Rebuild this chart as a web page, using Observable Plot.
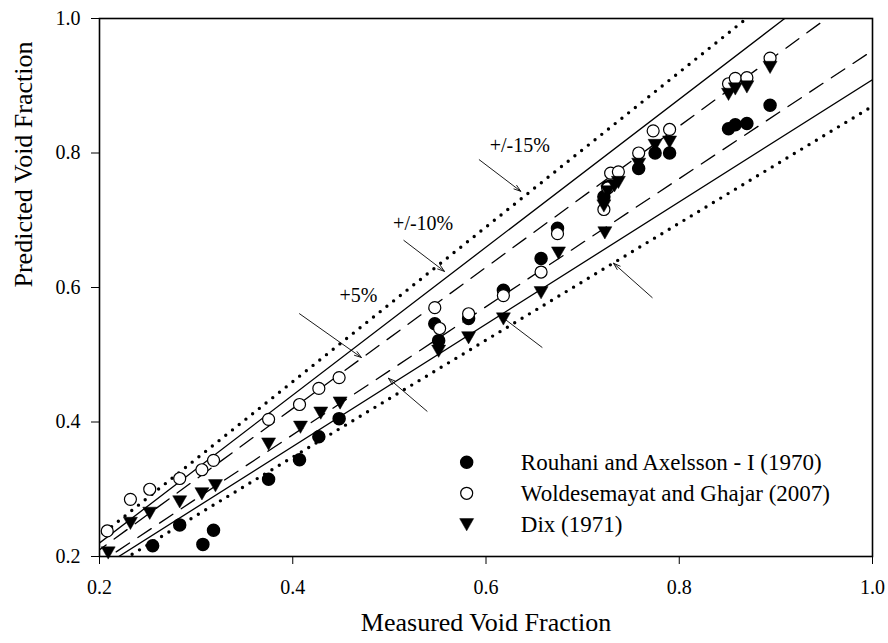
<!DOCTYPE html>
<html>
<head>
<meta charset="utf-8">
<script src="https://cdn.jsdelivr.net/npm/d3@7"></script>
<script src="https://cdn.jsdelivr.net/npm/@observablehq/plot@0.6"></script>
<style>
  html, body { margin: 0; padding: 0; background: #fff; }
  #chart svg { display: block; font-family: "Liberation Serif", "Times New Roman", serif !important; }
  #chart svg text, #chart svg g { font-family: "Liberation Serif", "Times New Roman", serif !important; }
</style>
</head>
<body>
<div id="chart"></div>
<script>
// ---- data ----
const rouhaniX = [0.255,0.283,0.307,0.318,0.375,0.407,0.427,0.448,0.547,0.551,0.582,0.618,0.657,0.674,0.722,0.726,0.758,0.775,0.790,0.851,0.858,0.870,0.894];
const rouhaniY = [0.216,0.247,0.218,0.239,0.315,0.344,0.378,0.405,0.546,0.521,0.554,0.596,0.643,0.688,0.735,0.750,0.777,0.800,0.800,0.836,0.842,0.844,0.871];

const woldX = [0.208,0.232,0.252,0.283,0.306,0.318,0.375,0.407,0.427,0.448,0.547,0.552,0.582,0.618,0.657,0.674,0.722,0.726,0.729,0.737,0.758,0.773,0.790,0.851,0.858,0.870,0.894];
const woldY = [0.238,0.285,0.300,0.316,0.329,0.343,0.404,0.426,0.450,0.466,0.570,0.539,0.561,0.588,0.623,0.680,0.716,0.748,0.770,0.772,0.800,0.833,0.835,0.903,0.911,0.912,0.941];

const dixX = [0.209,0.232,0.252,0.283,0.306,0.320,0.375,0.408,0.429,0.449,0.551,0.582,0.618,0.657,0.675,0.723,0.722,0.726,0.733,0.737,0.758,0.775,0.790,0.851,0.858,0.870,0.894];
const dixY = [0.206,0.250,0.265,0.282,0.294,0.306,0.368,0.393,0.414,0.429,0.506,0.526,0.554,0.593,0.652,0.682,0.722,0.743,0.752,0.757,0.784,0.812,0.817,0.888,0.896,0.899,0.928];

const seriesNames = ["Rouhani and Axelsson - I (1970)", "Woldesemayat and Ghajar (2007)", "Dix (1971)"];

// error band factors (predicted = factor * measured)
const bandFactors = [1.15, 1.10, 1.05, 1/1.05, 1/1.10, 1/1.15];
const bandStyles  = ["dot", "solid", "dash", "dash", "solid", "dot"];
const bandXEnds = [0.15, 1.05];

const axisTicks = [0.2, 0.4, 0.6, 0.8, 1.0];

// annotation labels and arrows (data coordinates)
const annoLabels = ["+/-15%", "+/-10%", "+5%"];
const annoLabelX = [0.635, 0.535, 0.468];
const annoLabelY = [0.811, 0.695, 0.588];
const arrowX1 = [0.593, 0.515, 0.407, 0.539, 0.658, 0.772];
const arrowY1 = [0.790, 0.670, 0.561, 0.416, 0.511, 0.585];
const arrowX2 = [0.636, 0.557, 0.471, 0.499, 0.613, 0.732];
const arrowY2 = [0.743, 0.624, 0.496, 0.465, 0.560, 0.636];

// legend placement (data coordinates)
const legendSymX = 0.580;
const legendTextX = 0.636;
const legendY = [0.340, 0.294, 0.248];

// ---- build tables ----
const zip = (xs, ys) => xs.map((x, i) => ({x, y: ys[i]}));
const rouhani = zip(rouhaniX, rouhaniY);
const wold = zip(woldX, woldY);
const dix = zip(dixX, dixY);

const bandLines = bandFactors.flatMap((f, i) => bandXEnds.map(x => ({x, y: x * f, band: i, style: bandStyles[i]})));
const byStyle = s => bandLines.filter(d => d.style === s);

const annos = annoLabels.map((t, i) => ({t, x: annoLabelX[i], y: annoLabelY[i]}));
const arrows = arrowX1.map((x1, i) => ({x1, y1: arrowY1[i], x2: arrowX2[i], y2: arrowY2[i]}));

const legendRows = seriesNames.map((name, i) => ({name, x: legendSymX, tx: legendTextX, y: legendY[i]}));

const triangleDown = {
  draw(context, size) {
    const r = Math.sqrt(size / Math.PI);
    context.moveTo(-r, -0.8 * r);
    context.lineTo(r, -0.8 * r);
    context.lineTo(0, 0.95 * r);
    context.closePath();
  }
};

const serif = "'Liberation Serif', 'Times New Roman', serif";

const chart = Plot.plot({
  width: 888,
  height: 643,
  marginLeft: 99,
  marginRight: 16,
  marginTop: 18,
  marginBottom: 87,
  style: {fontFamily: serif, color: "black", background: "white"},
  x: {domain: [0.2, 1.0]},
  y: {domain: [0.2, 1.0]},
  marks: [
    Plot.line(byStyle("dot"), {x: "x", y: "y", z: "band", stroke: "black", strokeWidth: 3.4, strokeDasharray: "0,8.6", strokeLinecap: "round", clip: true}),
    Plot.line(byStyle("solid"), {x: "x", y: "y", z: "band", stroke: "black", strokeWidth: 1.3, clip: true}),
    Plot.line(byStyle("dash"), {x: "x", y: "y", z: "band", stroke: "black", strokeWidth: 1.3, strokeDasharray: "16,10", clip: true}),
    Plot.arrow(arrows, {x1: "x1", y1: "y1", x2: "x2", y2: "y2", stroke: "black", strokeWidth: 0.9, headLength: 12, headAngle: 36}),
    Plot.text(annos, {x: "x", y: "y", text: "t", fontSize: 20, fontFamily: serif, fill: "black"}),
    Plot.dot(rouhani, {x: "x", y: "y", r: 6, fill: "black", stroke: "black"}),
    Plot.dot(wold, {x: "x", y: "y", r: 6, fill: "white", stroke: "black", strokeWidth: 1.2}),
    Plot.dot(dix, {x: "x", y: "y", r: 7, symbol: triangleDown, fill: "black", stroke: "black", strokeWidth: 0.5}),
    // legend
    Plot.dot(legendRows.slice(0, 1), {x: "x", y: "y", r: 6, fill: "black", stroke: "black"}),
    Plot.dot(legendRows.slice(1, 2), {x: "x", y: "y", r: 6, fill: "white", stroke: "black", strokeWidth: 1.2}),
    Plot.dot(legendRows.slice(2, 3), {x: "x", y: "y", r: 7, symbol: triangleDown, fill: "black", stroke: "black", strokeWidth: 0.5}),
    Plot.text(legendRows, {x: "tx", y: "y", text: "name", textAnchor: "start", fontSize: 23, fontFamily: serif, fill: "black"}),
    // axes
    Plot.axisX({ticks: axisTicks, tickFormat: d3.format(".1f"), tickSize: 8, tickPadding: 15, fontSize: 20, fontFamily: serif, label: null, stroke: "black"}),
    Plot.axisY({ticks: axisTicks, tickFormat: d3.format(".1f"), tickSize: 8, tickPadding: 11, fontSize: 20, fontFamily: serif, label: null, stroke: "black"}),
    Plot.frame({stroke: "black", strokeWidth: 1.6}),
    Plot.text(["Measured Void Fraction"], {frameAnchor: "bottom", dy: 74, fontSize: 26, fontFamily: serif, fill: "black"}),
    Plot.text(["Predicted Void Fraction"], {frameAnchor: "left", dx: -76, rotate: -90, fontSize: 26, fontFamily: serif, fill: "black"})
  ]
});
document.getElementById("chart").appendChild(chart);
</script>
</body>
</html>
